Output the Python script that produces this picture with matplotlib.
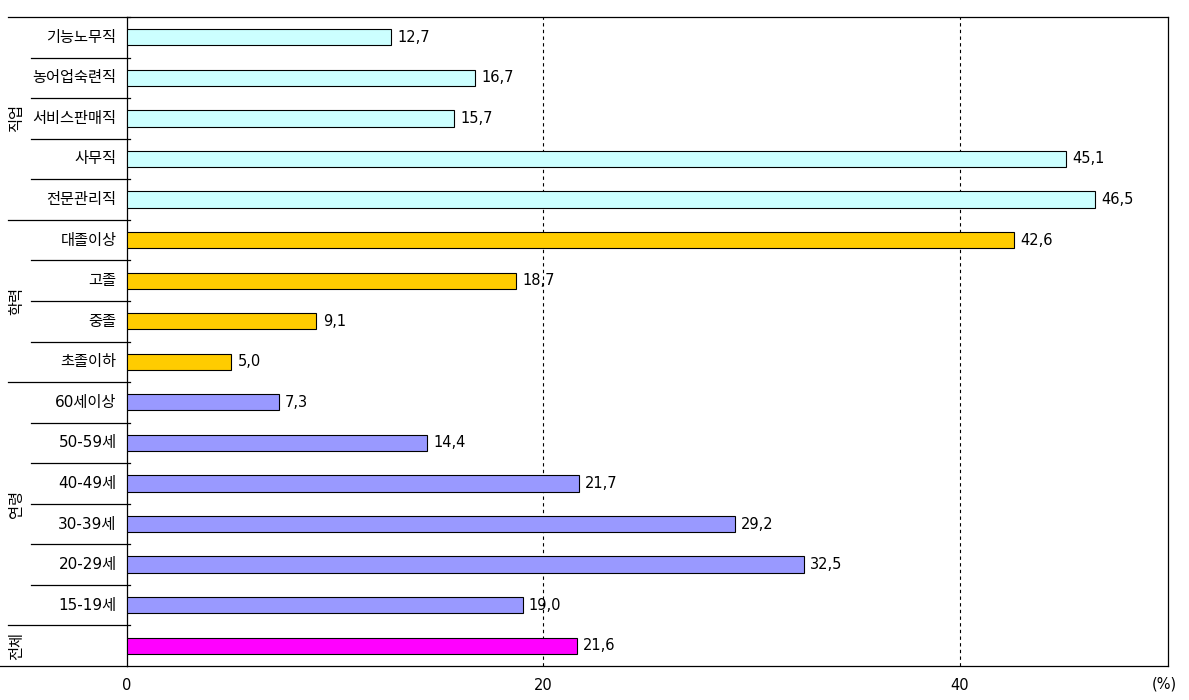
import matplotlib.pyplot as plt
import matplotlib.transforms as mtransforms

plt.rcParams['font.family'] = ['DejaVu Sans', 'Noto Sans CJK KR']

# categories top to bottom
labels = ["기능노무직", "농어업숙련직", "서비스판매직", "사무직", "전문관리직",
          "대졸이상", "고졸", "중졸", "초졸이하",
          "60세이상", "50-59세", "40-49세", "30-39세", "20-29세", "15-19세",
          ""]
values = [12.7, 16.7, 15.7, 45.1, 46.5,
          42.6, 18.7, 9.1, 5.0,
          7.3, 14.4, 21.7, 29.2, 32.5, 19.0,
          21.6]
groups = ["직업", "학력", "연령", "전체"]
group_sizes = [5, 4, 6, 1]
group_colors = ["#CCFFFF", "#FFCC00", "#9999FF", "#FF00FF"]
xticks = [0, 20, 40]

colors = []
for c, n in zip(group_colors, group_sizes):
    colors += [c] * n

fs = 10.5
fig = plt.figure(figsize=(11.89, 7), dpi=100)
ax = fig.add_axes([127 / 1189, 1 - 666 / 700, 1041 / 1189, 649 / 700])

ys = list(range(len(values)))
ax.barh(ys, values, height=0.4, color=colors, edgecolor="black", linewidth=0.8, zorder=3)
for y, v in zip(ys, values):
    ax.text(v + 0.3, y, f"{v:.1f}".replace(".", ","), va="center", ha="left", fontsize=fs)

ax.set_xlim(0, 50)
ax.set_ylim(len(values) - 0.5, -0.5)
ax.set_xticks(xticks)
ax.set_xticklabels([str(t) for t in xticks], fontsize=fs)
ax.tick_params(axis="x", length=0, pad=9)
ax.set_yticks([])
for t in xticks[1:]:
    ax.axvline(t, color="black", linestyle=(0, (3, 3)), linewidth=0.8, zorder=1)
for s in ax.spines.values():
    s.set_linewidth(0.9)

ax.text(1.009, -0.028, "(%)", transform=ax.transAxes, ha="right", va="center", fontsize=fs)

trans = mtransforms.blended_transform_factory(ax.transAxes, ax.transData)
for y, lab in zip(ys, labels):
    ax.text(-0.01, y, lab, transform=trans, ha="right", va="center", fontsize=11)

# separators at the left
start = 0
for g, n in zip(groups, group_sizes):
    top = start - 0.5
    ax.plot([-0.1143, 0.003], [top, top], transform=trans, color="black", lw=0.9, clip_on=False)
    for k in range(1, n):
        yy = start + k - 0.5
        ax.plot([-0.0922, 0.003], [yy, yy], transform=trans, color="black", lw=0.9, clip_on=False)
    ax.text(-0.106, start + (n - 1) / 2, g, transform=trans, rotation=90,
            ha="center", va="center", fontsize=11)
    start += n
ax.plot([-0.122, 0], [start - 0.5, start - 0.5], transform=trans, color="black", lw=0.9, clip_on=False)

fig.savefig("out.png", dpi=100)
